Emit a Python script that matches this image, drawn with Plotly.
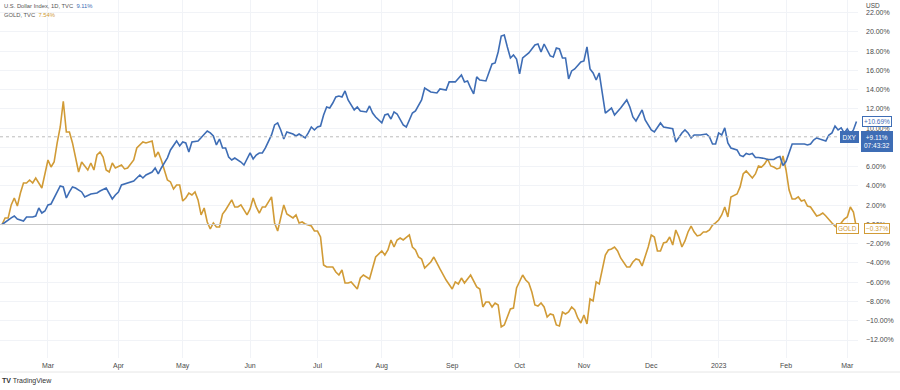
import pandas as pd
import plotly.graph_objects as go

# ---------------- data (trading sessions counted from 2022-02-08, % change) ----------------
dxy_session = [0,1,3,4,5,7,8,10,11,12,13,14,15,16,17,19,20,21,22,23,24,26,27,28,29,31,32,34,35,36,37,38,39,41,43,44,45,46,47,49,50,51,52,54,55,57,58,59,60,61,62,64,65,67,68,69,70,71,72,73,74,75,76,78,79,80,81,82,83,84,85,86,88,89,90,91,92,93,94,95,96,97,98,99,100,101,102,103,104,105,106,107,108,109,110,111,112,113,115,116,117,119,120,121,122,124,125,126,127,128,129,131,132,133,134,135,137,138,140,142,143,145,146,148,150,151,152,153,154,155,156,158,160,161,162,163,164,165,166,167,168,169,170,172,174,175,176,177,179,180,181,182,183,184,185,186,187,189,190,191,192,193,194,195,196,197,199,200,202,204,205,206,207,208,209,210,212,213,214,215,216,218,219,220,222,223,224,225,226,228,230,231,232,233,234,235,236,237,238,240,241,242,243,244,245,246,247,249,250,252,253,254,255,256,257,258,259,261,262,263,264,265,266,267,269,270,271,272,273,274,275,276,277,278,279]
dxy_pct = [0.0,0.26,0.68,0.88,0.57,0.36,0.78,0.78,0.88,1.71,1.19,1.40,2.03,2.13,2.75,4.00,3.90,2.75,3.38,3.90,3.79,3.38,2.86,3.06,3.17,3.27,3.48,3.79,3.27,2.65,3.06,3.38,4.10,4.31,4.52,4.83,5.14,4.83,5.14,5.45,5.87,5.25,5.87,6.92,7.74,8.68,8.16,8.57,8.47,7.53,8.57,8.68,8.99,9.71,9.51,9.19,8.26,8.88,7.95,7.95,7.01,6.70,6.91,6.49,6.18,6.81,7.43,6.81,7.22,7.43,7.43,7.95,9.30,10.34,10.55,9.82,8.88,9.61,9.51,9.40,9.19,9.40,9.19,8.99,9.51,10.13,9.82,10.13,10.23,11.38,12.21,12.10,12.62,13.25,13.35,13.25,13.87,12.94,11.90,12.21,11.79,11.69,12.31,11.58,11.17,10.55,11.38,11.48,10.96,11.69,11.48,10.34,10.13,10.96,11.58,11.79,12.94,14.18,13.77,13.66,14.08,13.97,14.81,14.81,15.53,14.81,14.91,14.18,13.56,15.33,15.01,14.91,16.68,16.78,17.92,19.58,19.69,18.44,17.30,17.61,17.19,15.64,17.30,17.82,18.65,18.75,17.92,18.75,17.51,17.40,18.34,18.23,17.30,17.30,15.12,15.95,16.16,16.88,16.99,18.44,16.16,15.74,15.01,15.74,13.77,11.58,12.10,11.38,12.10,12.94,12.21,11.17,10.75,11.38,11.90,10.86,9.82,9.61,10.13,10.55,10.13,10.03,9.95,8.57,9.51,9.82,9.51,8.99,9.30,9.30,9.40,9.09,8.36,8.36,9.51,9.30,10.03,8.47,7.95,7.74,7.17,7.06,7.38,7.27,7.38,6.96,6.96,6.86,6.75,6.75,6.96,7.06,6.13,6.54,7.48,8.36,8.36,8.36,8.36,8.26,8.36,8.78,8.99,8.88,8.68,9.30,9.51,10.23,9.82,10.03,9.51,9.92,9.40,9.82,10.69]

gold_session = [0,1,2,3,4,5,6,7,8,9,10,11,13,15,16,17,18,19,20,21,22,23,25,26,28,29,30,31,32,33,34,35,36,37,39,40,41,43,44,46,47,49,50,51,52,54,55,56,57,58,59,60,61,62,63,64,65,66,67,68,69,70,71,72,73,75,76,77,78,80,81,82,83,84,85,86,88,89,90,91,92,93,94,95,96,97,98,99,101,102,103,104,105,106,108,109,110,111,112,113,114,116,117,118,120,121,122,124,125,126,127,128,129,130,131,133,134,135,136,137,138,140,141,143,145,147,148,149,150,151,153,155,156,157,158,159,160,161,162,163,164,166,167,168,170,171,172,173,174,175,176,177,178,179,180,181,182,183,184,185,186,187,188,189,190,191,192,193,194,195,196,197,198,199,200,201,202,204,205,206,207,208,209,210,211,212,213,214,215,216,217,218,219,220,221,222,223,224,225,226,227,228,229,230,231,232,233,234,235,236,237,238,239,240,241,242,243,244,245,246,247,248,249,250,251,252,253,254,255,256,257,258,259,260,261,262,263,264,265,266,267,268,269,270,271,272,273,274,275,276,277,278,279]
gold_pct = [0.0,0.68,0.68,2.03,2.75,1.92,3.27,4.31,4.31,4.62,4.31,4.83,3.79,6.70,5.97,6.49,8.47,10.13,12.80,9.61,9.61,8.47,5.45,6.49,5.66,6.39,5.66,7.22,7.53,7.01,5.66,5.45,6.39,5.87,6.18,5.77,5.87,6.70,7.95,8.57,8.47,8.68,7.01,7.53,6.70,4.62,4.42,3.69,4.10,4.10,2.44,2.75,3.27,3.06,3.38,2.55,0.99,1.71,0.26,-0.47,0.16,-0.26,-0.26,1.09,1.51,2.55,1.82,1.82,2.03,0.99,1.61,2.75,1.82,1.19,1.82,1.82,2.86,0.16,-0.68,0.78,2.03,1.09,0.88,0.68,0.99,0.16,0.26,0.05,-0.16,-0.68,-0.68,-1.30,-4.21,-4.42,-4.42,-4.94,-5.25,-4.73,-6.08,-6.08,-5.97,-6.70,-5.56,-5.25,-5.66,-4.52,-3.38,-2.75,-3.17,-2.65,-1.61,-2.34,-1.61,-1.40,-1.61,-1.09,-2.34,-2.65,-3.38,-3.58,-4.52,-3.90,-3.38,-4.62,-5.77,-6.70,-5.97,-6.18,-5.56,-6.08,-5.25,-6.49,-6.70,-8.57,-8.05,-8.05,-8.57,-8.16,-8.36,-10.65,-10.44,-8.78,-8.68,-6.60,-5.25,-5.77,-6.08,-7.01,-8.36,-8.47,-8.16,-8.57,-9.61,-9.30,-9.40,-10.44,-10.55,-9.09,-9.30,-9.09,-8.57,-8.88,-9.71,-10.23,-9.40,-10.34,-7.74,-7.95,-5.97,-6.18,-4.52,-3.17,-2.65,-2.55,-2.34,-2.75,-3.48,-4.42,-4.42,-3.90,-3.58,-3.69,-4.31,-3.38,-2.34,-1.09,-1.30,-2.75,-2.75,-1.92,-1.82,-1.30,-2.13,-0.57,-1.30,-2.34,-1.71,-0.78,-0.16,-0.78,-1.19,-1.09,-0.78,-0.78,-0.57,-0.05,0.16,0.47,0.99,1.82,0.78,2.86,3.06,3.17,3.90,5.25,5.56,5.14,4.83,5.25,6.08,5.97,6.29,6.80,6.08,5.97,5.77,5.87,7.12,5.66,3.58,2.65,2.65,2.86,2.44,2.55,1.92,1.82,1.30,0.88,0.99,1.19,0.88,0.57,0.16,-0.16,-0.37,0.16,0.57,0.78,1.82,1.30,-0.37]

x_tick_dates = ["2022-03-01","2022-04-01","2022-05-02","2022-06-01","2022-07-01","2022-08-01",
                "2022-09-01","2022-10-03","2022-11-01","2022-12-01","2023-01-02","2023-02-01","2023-03-01"]
x_tick_text = ["Mar","Apr","May","Jun","Jul","Aug","Sep","Oct","Nov","Dec","2023","Feb","Mar"]
y_tick_vals = [-12,-10,-8,-6,-4,-2,0,2,4,6,8,10,12,14,16,18,20,22]
y_tick_text = ["−12.00%","−10.00%","−8.00%","−6.00%","−4.00%","−2.00%","0.00%","2.00%","4.00%","6.00%",
               "8.00%","10.00%","12.00%","14.00%","16.00%","18.00%","20.00%","22.00%"]

dxy_last_price = 9.11
dxy_last_point = 10.69
gold_last = -0.37

# ---------------- styling ----------------
BLUE = "#3e6db5"
GOLD = "#d19b36"
FONT = "Liberation Sans, Arial, sans-serif"
TXT = "#4a4a4a"

sessions = pd.bdate_range("2022-02-08", periods=281)
dxy_x = sessions[dxy_session]
gold_x = sessions[gold_session]

fig = go.Figure()
fig.add_trace(go.Scatter(x=gold_x, y=gold_pct, mode="lines", line=dict(color=GOLD, width=1.6),
                         name="GOLD", showlegend=False, hoverinfo="skip"))
fig.add_trace(go.Scatter(x=dxy_x, y=dxy_pct, mode="lines", line=dict(color=BLUE, width=1.6),
                         name="DXY", showlegend=False, hoverinfo="skip"))

W, H = 900, 390
ML, MR, MT, MB = 0, 42, 0, 32
plot_h = H - MT - MB
plot_w = W - ML - MR

fig.update_layout(
    width=W, height=H, margin=dict(l=ML, r=MR, t=MT, b=MB, autoexpand=False),
    paper_bgcolor="white", plot_bgcolor="white",
    font=dict(family=FONT, size=7, color=TXT),
    xaxis=dict(
        type="date", automargin=False,
        range=["2022-02-07 08:00", "2023-03-06 12:00"],
        rangebreaks=[dict(bounds=["sat", "mon"])],
        tickvals=x_tick_dates, ticktext=x_tick_text,
        showgrid=True, gridcolor="#f1f3f7", gridwidth=1,
        zeroline=False, showline=False, ticks="",
        tickfont=dict(size=7, color=TXT, family=FONT),
        ticklabelstandoff=2,
    ),
    yaxis=dict(
        side="right", automargin=False,
        range=[-13.87, 23.32],
        tickvals=y_tick_vals, ticktext=y_tick_text,
        showgrid=True, gridcolor="#f1f3f7", gridwidth=1,
        zeroline=False, showline=False, ticks="",
        tickfont=dict(size=7, color=TXT, family=FONT),
        ticklabelstandoff=7,
    ),
)

# zero baseline and last-price dotted line
fig.add_hline(y=0, line=dict(color="#c9c9c9", width=1.2))
fig.add_hline(y=dxy_last_price, line=dict(color="#bdbdbd", width=1, dash="dot"))

# bottom border of time scale
fig.add_shape(type="line", xref="paper", yref="paper", x0=0, x1=1 + MR / plot_w,
              y0=-14 / plot_h, y1=-14 / plot_h, line=dict(color="#e6e6e6", width=1))


def py(px):
    return 1 - px / plot_h


def pxr(px):
    return px / plot_w


# header legend
fig.add_annotation(xref="paper", yref="paper", x=pxr(2), y=py(6), xanchor="left", yanchor="middle",
                   showarrow=False, font=dict(size=5.8, color="#555", family=FONT),
                   text=f"U.S. Dollar Index, 1D, TVC&nbsp; <span style='color:{BLUE}'>{dxy_last_price:.2f}%</span>")
fig.add_annotation(xref="paper", yref="paper", x=pxr(2), y=py(15), xanchor="left", yanchor="middle",
                   showarrow=False, font=dict(size=5.8, color="#555", family=FONT),
                   text=f"GOLD, TVC&nbsp; <span style='color:{GOLD}'>7.54%</span>")

# price scale header
fig.add_annotation(xref="paper", yref="paper", x=pxr(865), y=py(5), xanchor="left", yanchor="middle",
                   showarrow=False, font=dict(size=6.5, color=TXT, family=FONT), text="USD",
                   bgcolor="white", borderpad=0)

# right-side price labels
fig.add_annotation(xref="paper", yref="y", x=pxr(862), y=dxy_last_point, xanchor="left", yanchor="middle",
                   showarrow=False, font=dict(size=6.5, color=BLUE, family=FONT),
                   text=f"+{dxy_last_point:.2f}%", bgcolor="white", bordercolor=BLUE, borderwidth=1, borderpad=1)
fig.add_annotation(xref="paper", yref="y", x=pxr(861), y=dxy_last_price, xanchor="left", yanchor="top",
                   showarrow=False, font=dict(size=6.5, color="white", family=FONT), align="center",
                   text=f"+{dxy_last_price:.2f}%<br>07:43:32", bgcolor=BLUE, bordercolor=BLUE,
                   borderwidth=1, borderpad=2, yshift=6)
fig.add_annotation(xref="paper", yref="y", x=pxr(859), y=dxy_last_price, xanchor="right", yanchor="middle",
                   showarrow=False, font=dict(size=6.5, color="white", family=FONT),
                   text="DXY", bgcolor=BLUE, bordercolor=BLUE, borderwidth=1, borderpad=1.5)
fig.add_annotation(xref="paper", yref="y", x=pxr(859), y=gold_last, xanchor="right", yanchor="middle",
                   showarrow=False, font=dict(size=6.5, color=GOLD, family=FONT),
                   text="GOLD", bgcolor="white", bordercolor=GOLD, borderwidth=1, borderpad=1)
fig.add_annotation(xref="paper", yref="y", x=pxr(864), y=gold_last, xanchor="left", yanchor="middle",
                   showarrow=False, font=dict(size=6.5, color=GOLD, family=FONT),
                   text=f"{gold_last:.2f}%".replace("-", "−"), bgcolor="white", bordercolor=GOLD,
                   borderwidth=1, borderpad=1)

# TradingView mark
fig.add_annotation(xref="paper", yref="paper", x=0.0, y=py(381), xanchor="left", yanchor="middle",
                   showarrow=False, font=dict(size=7, color="#333", family=FONT),
                   text="<b>TV</b> TradingView")

fig.write_html("out.html", config={"displayModeBar": False},
               post_script="document.body.style.margin='0';document.body.style.padding='0';")
